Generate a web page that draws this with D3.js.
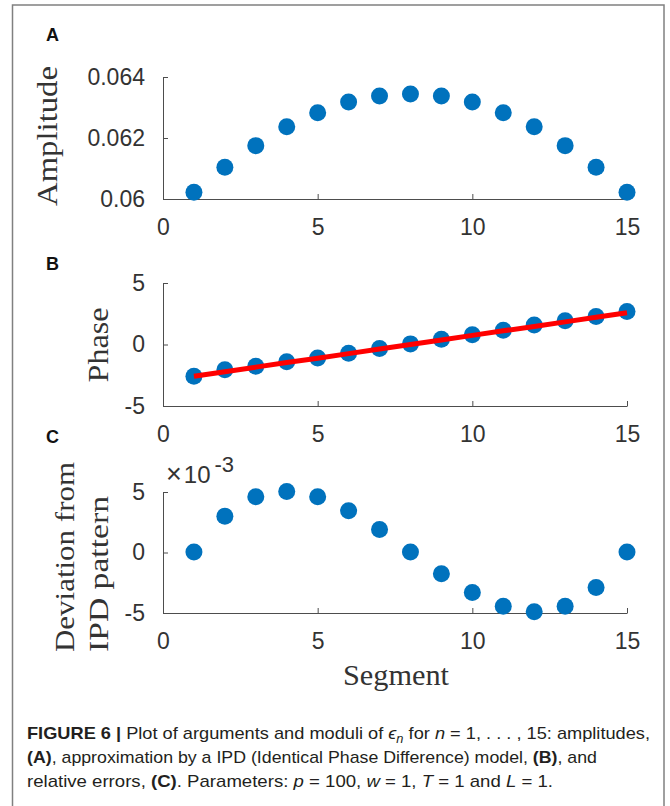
<!DOCTYPE html>
<html>
<head>
<meta charset="utf-8">
<script src="https://cdn.jsdelivr.net/npm/d3@7"></script>
<style>
  html, body { margin: 0; padding: 0; background: #fff; }
</style>
</head>
<body>
<div id="chart"></div>
<script>
// values
const segments = [1, 2, 3, 4, 5, 6, 7, 8, 9, 10, 11, 12, 13, 14, 15];
const amplitude = [0.06022, 0.06104, 0.06175, 0.06237, 0.06283, 0.06318, 0.06338, 0.06344,
                   0.06338, 0.06318, 0.06283, 0.06237, 0.06175, 0.06104, 0.06022];
const phase = [-2.58, -2.05, -1.77, -1.40, -1.10, -0.71, -0.33, 0.05,
               0.42, 0.80, 1.15, 1.58, 1.93, 2.28, 2.68];
const ipdFit = [-2.58, -2.21, -1.84, -1.47, -1.11, -0.74, -0.37, 0.0,
                0.37, 0.74, 1.11, 1.47, 1.84, 2.21, 2.58];
const deviation = [0.05, 3.0, 4.6, 5.05, 4.6, 3.45, 1.9, 0.05,
                   -1.75, -3.3, -4.45, -4.9, -4.45, -2.9, 0.05]; // x 10^-3
const xTicks = [0, 5, 10, 15];
const ampTicks = [0.06, 0.062, 0.064];
const phaseTicks = [-5, 0, 5];
const devTicks = [-5, 0, 5];

const width = 670;
const height = 806;
const blue = "#0072BD";
const axisColor = "#4d4d4d";
const tickFont = "'Liberation Sans', Arial, sans-serif";
const serif = "'Liberation Serif', 'Times New Roman', serif";

const svg = d3.select("#chart")
  .append("svg")
  .attr("width", width)
  .attr("height", height);

// frame around the figure
svg.append("rect")
  .attr("x", 12.5)
  .attr("y", 5)
  .attr("width", 651.5)
  .attr("height", 830)
  .attr("fill", "none")
  .attr("stroke", "#808080")
  .attr("stroke-width", 1.5);

const x = d3.scaleLinear().domain([0, 15]).range([163, 627]);

// matlab style labels: plain hyphen, no unicode minus
const plain = d => String(+d.toFixed(3));

function drawPanel(opts) {
  const y = d3.scaleLinear().domain(opts.domain).range(opts.range);
  const g = svg.append("g");

  const yAxis = g.append("g")
    .attr("transform", `translate(${x(0)},0)`)
    .call(d3.axisLeft(y).tickValues(opts.ticks).tickFormat(plain)
      .tickSizeInner(-5).tickSizeOuter(0).tickPadding(18));

  const xAxis = g.append("g")
    .attr("transform", `translate(0,${opts.range[0]})`)
    .call(d3.axisBottom(x).tickValues(xTicks).tickFormat(plain)
      .tickSizeInner(-5).tickSizeOuter(0).tickPadding(20));

  [xAxis, yAxis].forEach(a => {
    a.attr("font-family", tickFont).attr("font-size", 23);
    a.select(".domain").attr("stroke", axisColor);
    a.selectAll(".tick line").attr("stroke", axisColor);
    a.selectAll(".tick text").attr("fill", "#333");
  });

  g.selectAll("circle")
    .data(opts.values)
    .enter()
    .append("circle")
    .attr("cx", (d, i) => x(segments[i]))
    .attr("cy", d => y(d))
    .attr("r", 8.5)
    .attr("fill", blue);

  return { g, y };
}

// Panel A
const pA = drawPanel({
  domain: [0.06, 0.064], range: [199, 77],
  ticks: ampTicks, values: amplitude
});

// Panel B
const pB = drawPanel({
  domain: [-5, 5], range: [406, 283],
  ticks: phaseTicks, values: phase
});

const line = d3.line()
  .x((d, i) => x(segments[i]))
  .y(d => pB.y(d));

pB.g.append("path")
  .datum(ipdFit)
  .attr("d", line)
  .attr("fill", "none")
  .attr("stroke", "#ff0000")
  .attr("stroke-width", 5);

// Panel C
const pC = drawPanel({
  domain: [-5, 5], range: [613, 492],
  ticks: devTicks, values: deviation
});

// exponent label
const expo = svg.append("text")
  .attr("x", 166)
  .attr("y", 483)
  .attr("font-family", tickFont)
  .attr("fill", "#333");
expo.append("tspan").attr("font-size", 27).text("\u00d7");
expo.append("tspan").attr("font-size", 24).attr("dx", 2).text("10");
expo.append("tspan").attr("font-size", 22).attr("dy", -11).attr("dx", 4).text("-3");

// panel letters
[["A", 41], ["B", 270], ["C", 443]].forEach(([t, yy]) => {
  svg.append("text")
    .attr("x", 46)
    .attr("y", yy)
    .attr("font-family", "'Liberation Sans', Arial, sans-serif")
    .attr("font-weight", "bold")
    .attr("font-size", 18)
    .attr("fill", "#111")
    .text(t);
});

// axis labels
function yLabel(text, bx, cy, len, size) {
  svg.append("text")
    .attr("transform", `translate(${bx},${cy}) rotate(-90)`)
    .attr("text-anchor", "middle")
    .attr("font-family", serif)
    .attr("font-size", size)
    .attr("fill", "#333")
    .attr("textLength", len)
    .attr("lengthAdjust", "spacingAndGlyphs")
    .text(text);
}
yLabel("Amplitude", 57, 136, 140, 30);
yLabel("Phase", 108, 345, 75, 30);

svg.append("text")
  .attr("transform", "translate(74,652) rotate(-90)")
  .attr("font-family", serif)
  .attr("font-size", 28)
  .attr("fill", "#333")
  .attr("textLength", 190)
  .attr("lengthAdjust", "spacingAndGlyphs")
  .text("Deviation from");
svg.append("text")
  .attr("transform", "translate(108,652) rotate(-90)")
  .attr("font-family", serif)
  .attr("font-size", 28)
  .attr("fill", "#333")
  .attr("textLength", 156)
  .attr("lengthAdjust", "spacingAndGlyphs")
  .text("IPD pattern");

svg.append("text")
  .attr("x", 396)
  .attr("y", 685)
  .attr("text-anchor", "middle")
  .attr("font-family", serif)
  .attr("font-size", 30)
  .attr("fill", "#333")
  .attr("textLength", 106)
  .attr("lengthAdjust", "spacingAndGlyphs")
  .text("Segment");

// caption
const captionLines = [
  { y: 739, len: 623, parts: [
    { t: "FIGURE 6 |", b: true }, { t: " Plot of arguments and moduli of " },
    { t: "\u03f5", i: true }, { t: "n", i: true, sub: true }, { t: " for " },
    { t: "n", i: true }, { t: " = 1, . . . , 15: amplitudes," }] },
  { y: 763, len: 570, parts: [
    { t: "(A)", b: true }, { t: ", approximation by a IPD (Identical Phase Difference) model, " },
    { t: "(B)", b: true }, { t: ", and" }] },
  { y: 787, len: 526, parts: [
    { t: "relative errors, " }, { t: "(C)", b: true }, { t: ". Parameters: " },
    { t: "p", i: true }, { t: " = 100, " }, { t: "w", i: true }, { t: " = 1, " },
    { t: "T", i: true }, { t: " = 1 and " }, { t: "L", i: true }, { t: " = 1." }] }
];

captionLines.forEach(l => {
  const txt = svg.append("text")
    .attr("x", 27)
    .attr("y", l.y)
    .attr("font-family", "'Liberation Sans', Arial, sans-serif")
    .attr("font-size", 17)
    .attr("fill", "#231f20")
    .attr("textLength", l.len)
    .attr("lengthAdjust", "spacingAndGlyphs")
    .style("white-space", "pre");
  let shifted = false;
  l.parts.forEach(p => {
    const ts = txt.append("tspan").text(p.t);
    if (p.b) ts.attr("font-weight", "bold");
    if (p.i) ts.attr("font-style", "italic");
    if (p.sub) { ts.attr("dy", 4).attr("font-size", 12); shifted = true; }
    else if (shifted) { ts.attr("dy", -4); shifted = false; }
  });
});
</script>
</body>
</html>
